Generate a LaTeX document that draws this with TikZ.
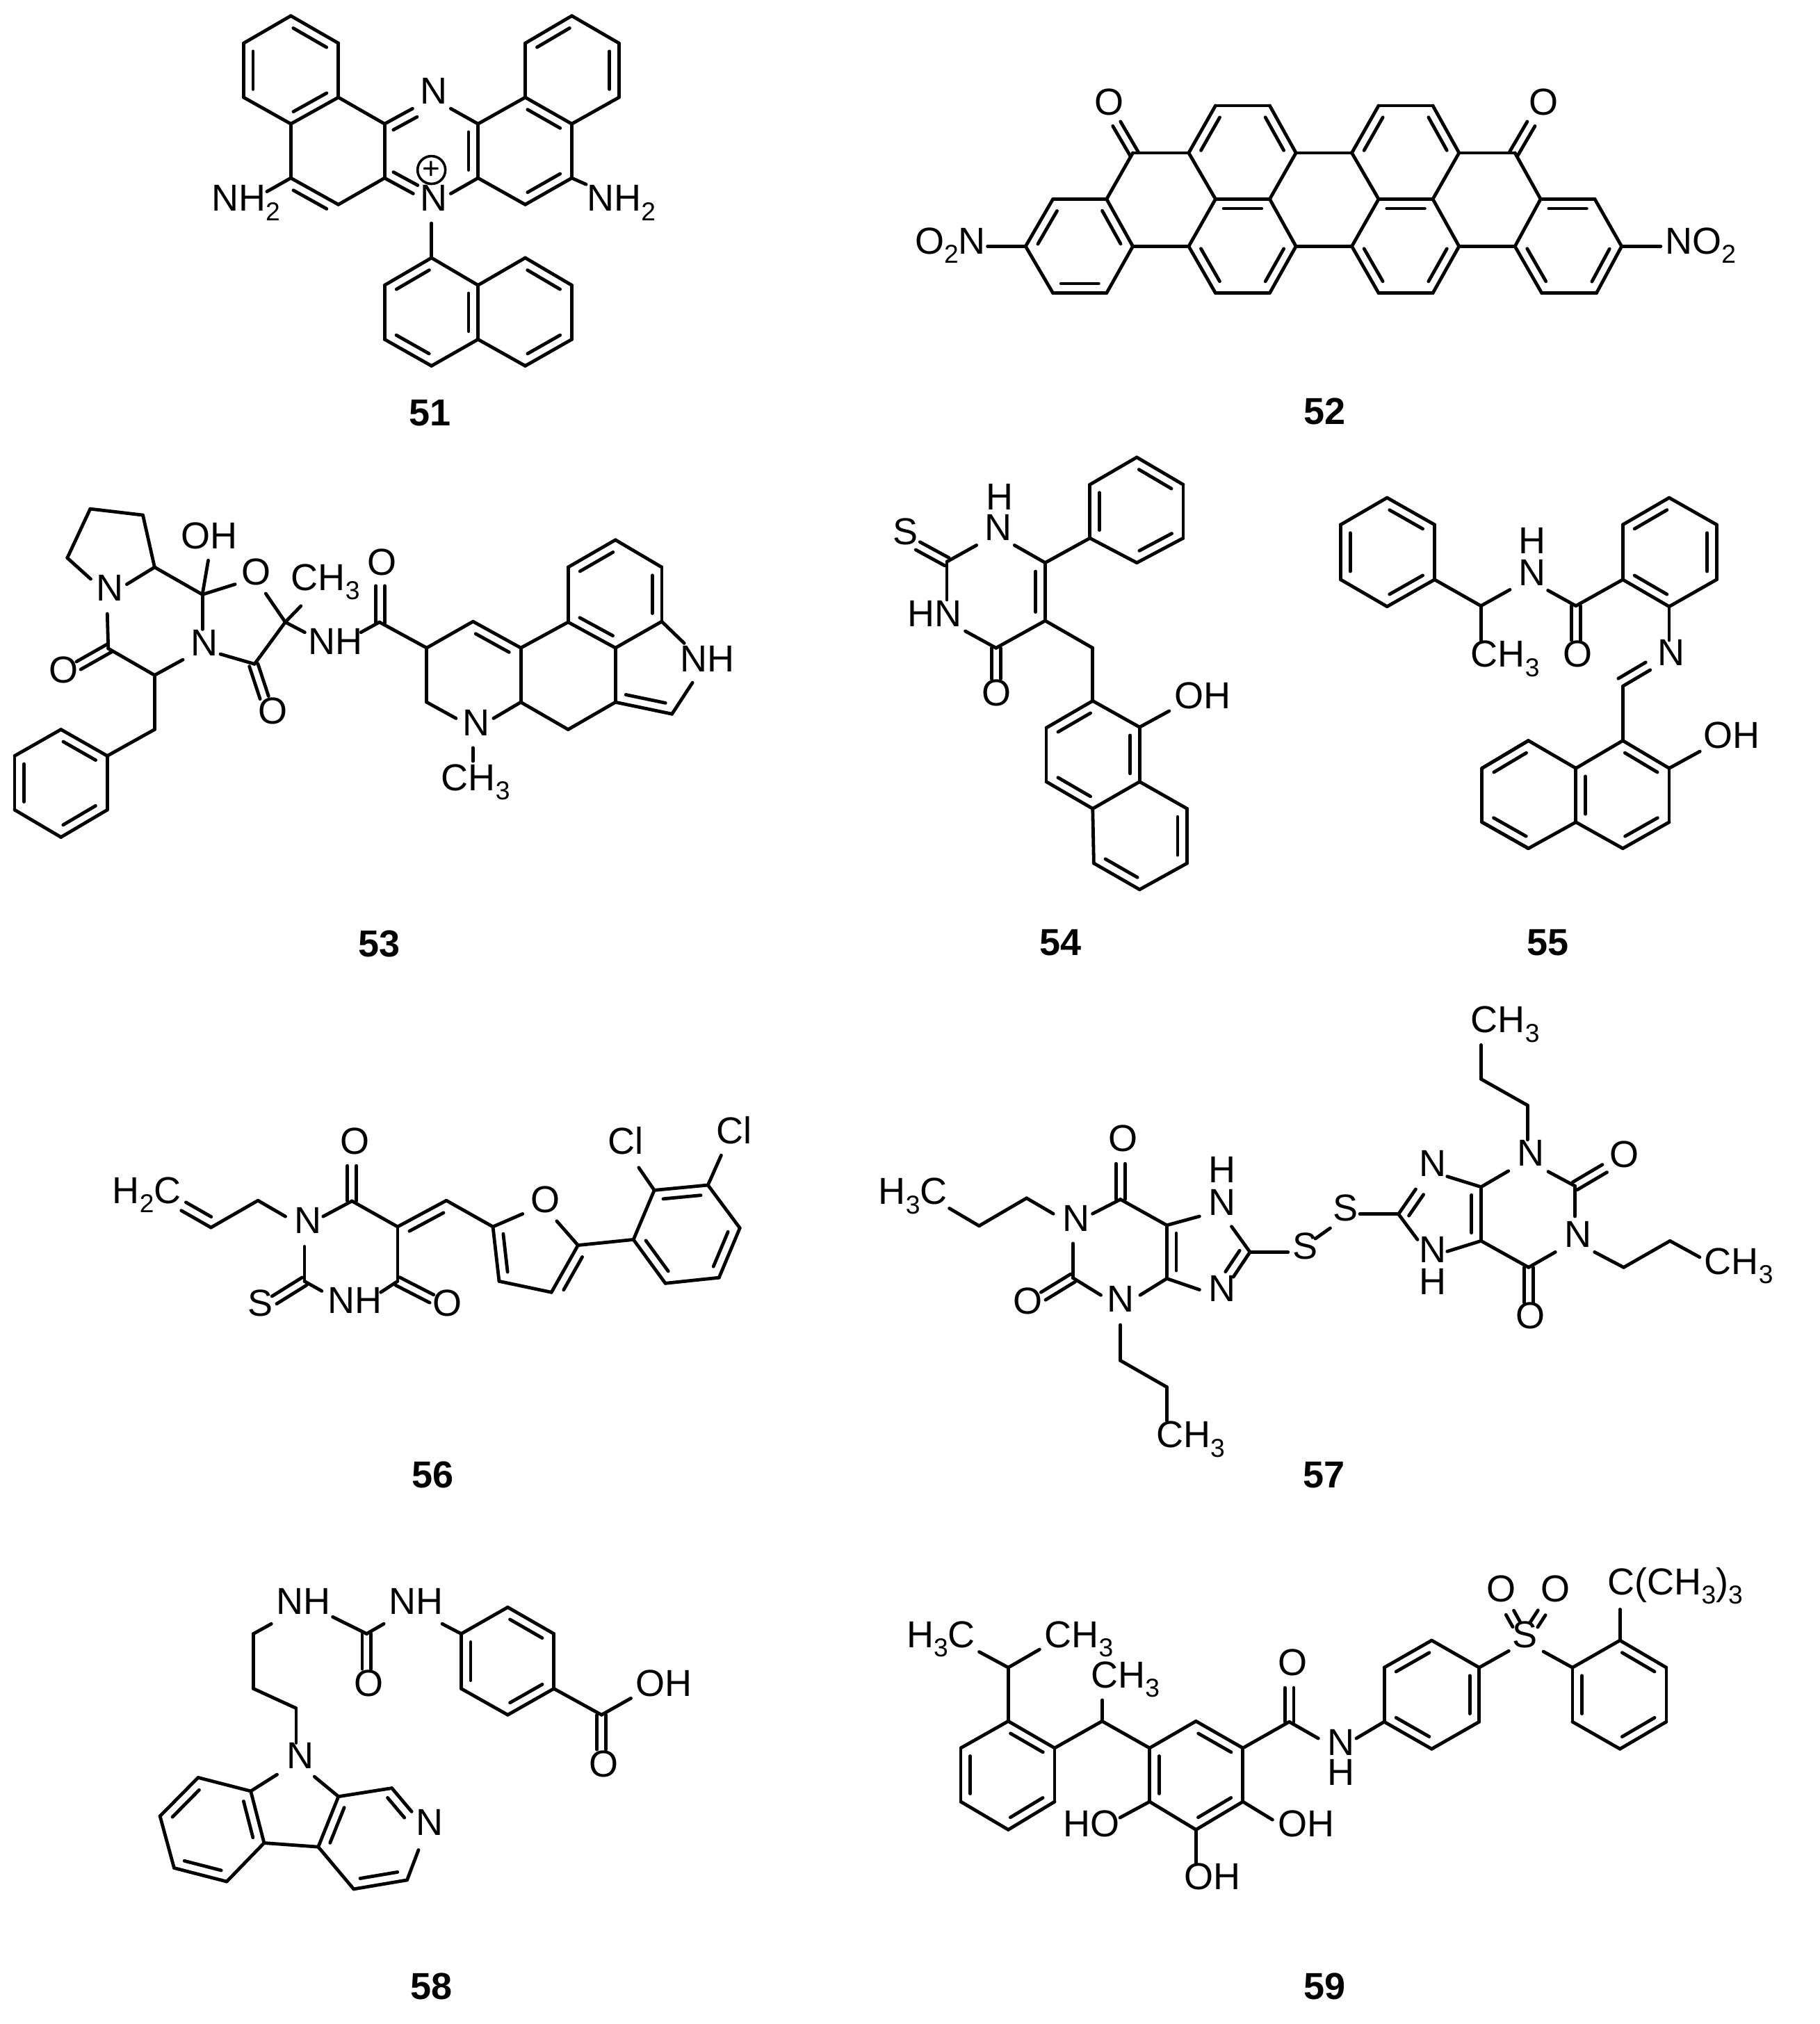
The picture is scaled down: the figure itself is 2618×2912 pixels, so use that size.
\documentclass[tikz,border=0pt]{standalone}
\usepackage{fontspec}
\setmainfont{Liberation Sans}
\usetikzlibrary{calc}
\newcommand\lsub[1]{\raisebox{-3.3pt}{\fontsize{9.3}{11}\selectfont #1}}
\newcommand\pts[1]{\foreach \n/\x/\y in {#1}{\coordinate (\n) at (\x,\y);}}
\newcommand\sbonds[1]{\foreach \a/\b in {#1}{\draw[bond] (\a) -- (\b);}}
\newcommand\arom[1]{\foreach \a/\b in {#1}{\draw[bond] (\a) -- (\b);
  \draw[bond] ($(\a)!.15!(\b)!3.4pt!-90:(\b)$) -- ($(\b)!.15!(\a)!3.4pt!90:(\a)$);}}
\newcommand\heterR[1]{\foreach \a/\b in {#1}{\draw[bond] (\a) -- (\b);
  \draw[bond] ($(\a)!.15!(\b)!3.4pt!-90:(\b)$) -- ($(\b)!3.4pt!90:(\a)$);}}
\newcommand\heterL[1]{\foreach \a/\b in {#1}{\draw[bond] (\a) -- (\b);
  \draw[bond] ($(\a)!.15!(\b)!3.4pt!90:(\b)$) -- ($(\b)!3.4pt!-90:(\a)$);}}
\newcommand\cdb[1]{\foreach \a/\b in {#1}{
  \draw[bond] ($(\a)!1.6pt!90:(\b)$) -- ($(\b)!1.6pt!-90:(\a)$);
  \draw[bond] ($(\a)!1.6pt!-90:(\b)$) -- ($(\b)!1.6pt!90:(\a)$);}}
\newcommand\atm[4]{\node[atom] (#1) at (#2,#3) {#4};}
\newcommand\cmpd[4]{\node[cmpdlabel] (#1) at (#2,#3) {#4};}
\tikzset{
  bond/.style={line width=1.2pt,line cap=round,line join=round,black},
  atom/.style={anchor=base west,inner sep=0pt,outer sep=0pt,font=\fontsize{13.5}{16}\selectfont},
  cmpdlabel/.style={anchor=base,inner sep=0pt,outer sep=0pt,font=\fontsize{13.5}{16}\selectfont\bfseries},
  mol/.style n args={5}{name prefix=#5-,shift={(#1,#2)},x={0.25pt*#3/1568},y={-0.25pt*#4/1568}}
}
\begin{document}
\begin{tikzpicture}[x=0.25pt,y=-0.25pt]
\useasboundingbox[fill=white] (0,0) rectangle (2618,2912);

% ---------- 51
\begin{scope}[mol={250}{0}{750}{650}{m1}]
\pts{a1/352/55,a2/495/150,a3/495/338,a4/352/430,a5/210/338,a6/210/150,b1/634/430,b2/634/618,b3/495/710,b4/352/618,c1/915/430,c2/915/618,c3/1057/338,c4/1197/430,c5/1197/618,c6/1057/710,d1/1057/150,d2/1197/55,d3/1339/150,d4/1339/338,e1/775/895,e2/915/990,e3/915/1178,e4/775/1270,e5/634/1178,e6/634/990,f1/1057/895,f2/1197/990,f3/1197/1178,f4/1057/1270,n1/718/377,n2/833/377,n3/833/672,n4/720/672,n5/775/775,h1/280/665,h2/1240/640}
\sbonds{a2/a3,a4/a5,a6/a1,a3/b1,a4/b4,b3/b2,b1/b2,n2/c1,c2/n3,c1/c3,c4/c5,c6/c2,c3/d1,d2/d3,d4/c4,b4/h1,c5/h2,n5/e1,e1/e2,e3/e4,e5/e6,e2/f1,f2/f3,f4/e3}
\arom{a1/a2,a5/a6,a3/a4,b4/b3,c1/c2,c3/c4,c5/c6,d1/d2,d3/d4,e6/e1,e4/e5,e2/e3,f1/f2,f3/f4}
\heterR{b1/n1}\heterL{b2/n4}
\atm{nh2a}{113}{733}{NH\lsub{2}}
\atm{nh2b}{1243}{733}{NH\lsub{2}}
\atm{nt}{742}{360}{N}
\atm{np}{742}{733}{N}
\node[circle,draw,line width=0.9pt,minimum size=10pt,inner sep=0pt,font=\fontsize{11}{11}\selectfont] (plus) at (775,590) {+};
\cmpd{lab}{770}{1478}{51}
\end{scope}

% ---------- 52
\begin{scope}[mol={1280}{80}{1260}{570}{m2}]
\pts{g1/292/568,g2/388/568,g3/435/755,g4/388/940,g5/292/940,g6/243/755,k1/435/385,h1/535/385,h2/583/198,h3/680/198,h4/727/385,h5/680/568,h6/583/568,i1/727/755,i2/680/940,i3/583/940,i4/535/755,j1/827/385,j2/875/198,j3/972/198,j4/1019/385,j5/972/568,j6/875/568,l1/1019/755,l2/972/940,l3/875/940,l4/827/755,k2/1119/385,m1/1165/568,m2/1262/568,m3/1310/755,m4/1265/940,m5/1167/940,m6/1119/755,o1a/438/391,o1b/406/270,o2a/1116/391,o2b/1148/270,e1/175/755,e2/1380/755}
\sbonds{g1/g2,g3/g4,g5/g6,k1/g2,k1/h1,h2/h3,h4/h5,h1/h6,h5/i1,i2/i3,i4/h6,g3/i4,h4/j1,i1/l4,j2/j3,j4/j5,j1/j6,j5/l1,l2/l3,l4/j6,j4/k2,k2/m1,l1/m6,m2/m3,m4/m5,m6/m1,g6/e1,m3/e2}
\arom{g6/g1,g2/g3,g4/g5,h1/h2,h3/h4,h6/h5,i1/i2,i3/i4,j1/j2,j3/j4,j6/j5,l1/l2,l3/l4,m1/m2,m3/m4,m5/m6}
\cdb{o1a/o1b,o2a/o2b}
\atm{o1}{366}{235}{O}
\atm{o2}{1144}{235}{O}
\atm{no2a}{45}{785}{O\lsub{2}N}
\atm{no2b}{1388}{785}{NO\lsub{2}}
\cmpd{lab}{778}{1460}{52}
\end{scope}

% ---------- 53
\begin{scope}[mol={0}{700}{1100}{700}{m3}]
\pts{p1/138/230,p2/185/72,p3/293/92,p4/317/260,n1/186/298,n2/260/315,q1/415/348,e1/427/238,e2/482/315,e3/415/460,e4/220/410,r1/222/522,ra/225/520,rb/161/577,r2/317/608,e5/375/558,r3/317/783,s1/220/868,s2/125/783,s3/30/868,s4/30/1042,s5/125/1130,s6/220/1042,e6/452/540,t1/522/572,t2/585/437,e7/545/345,e8/617/385,e9/625/470,ta/520/575,tb/542/680,e10/740/470,u1/778/437,ua/780/440,ub/780/320,u2/875/520,u3/970/435,u4/1068/520,u5/875/695,u6/1068/695,e11/935/747,e12/1012/747,e13/970/842,e14/970/885,v1/1165/437,v2/1165/260,v3/1262/172,v4/1357/260,v5/1357/435,v6/1262/520,v7/1262/695,v8/1165/783,v9/1378/733,e15/1420/632,e16/1403/505}
\sbonds{n1/p1,p1/p2,p2/p3,p3/p4,p4/n2,p4/q1,q1/e1,q1/e2,q1/e3,e4/r1,r1/r2,r2/e5,r2/r3,r3/s1,s1/s6,s5/s4,s3/s2,e6/t1,t1/t2,t2/e7,t2/e8,t2/e9,e10/u1,u1/u2,u2/u3,u2/u5,u5/e11,u6/e12,u4/u6,e13/e14,u4/v1,v1/v2,v3/v4,v5/v6,v6/v7,u6/v8,v8/v7,v9/e15,v5/e16}
\arom{s2/s1,s6/s5,s4/s3,u3/u4,v2/v3,v4/v5,v6/v1,v9/v7}
\cdb{ra/rb,ta/tb,ua/ub}
\atm{n3}{198}{368}{N}
\atm{oh}{372}{200}{OH}
\atm{o1}{495}{318}{O}
\atm{n4}{392}{545}{N}
\atm{o2}{100}{633}{O}
\atm{me1}{597}{335}{CH\lsub{3}}
\atm{nh}{632}{542}{NH}
\atm{o3}{530}{765}{O}
\atm{o4}{753}{285}{O}
\atm{n5}{948}{802}{N}
\atm{me2}{905}{980}{CH\lsub{3}}
\atm{nh2}{1395}{598}{NH}
\cmpd{lab}{778}{1515}{53}
\end{scope}

% ---------- 54
\begin{scope}[mol={1260}{640}{1260}{760}{m4}]
\pts{a1/303/350,a3/303/522,b1/383/277,b2/383/118,b3/467/37,b4/550/118,b5/550/277,b6/467/350,e1/248/298,c2/127/347,e2/180/298,s/75/300,e3/127/460,e4/160/553,c3/215/603,o/215/695,d1/388/603,d2/388/760,d3/472/838,d4/472/1000,d5/388/1080,d6/305/1000,d7/305/840,e5/525/790,f1/557/1080,f2/557/1242,f3/472/1320,f4/390/1242}
\sbonds{a1/b1,b2/b3,b4/b5,b6/b1,a1/e1,c2/e2,c2/e3,e4/c3,c3/a3,a3/d1,d1/d2,d2/d3,d4/d5,d6/d7,d3/e5,d4/f1,f2/f3,f4/d5}
\arom{b1/b2,b3/b4,b5/b6,a1/a3,d7/d2,d3/d4,d5/d6,f1/f2,f3/f4}
\cdb{c2/s,c3/o}
\atm{h}{197}{192}{H}
\atm{n}{195}{283}{N}
\atm{st}{30}{297}{S}
\atm{hn}{57}{540}{HN}
\atm{ox}{190}{775}{O}
\atm{oh}{535}{782}{OH}
\cmpd{lab}{330}{1515}{54}
\end{scope}

% ---------- 55
\begin{scope}[mol={1260}{640}{1260}{760}{m5}]
\pts{f1/1000/400,f2/1000/237,f3/915/157,f4/832/237,f5/832/400,f6/915/480,g1/1083/478,e1/1135/430,e2/1083/585,e3/1203/432,g2/1253/478,o/1253/580,h1/1337/400,h2/1337/237,h3/1420/157,h4/1505/237,h5/1505/400,h6/1420/480,e4/1420/580,na/1382/657,nb/1333/705,c/1337/718,i1/1337/878,i2/1420/960,i3/1420/1120,i4/1337/1198,i5/1253/1120,i6/1253/960,e5/1475/910,j1/1168/878,j2/1085/960,j3/1085/1120,j4/1168/1198}
\sbonds{f2/f1,f3/f4,f4/f5,f5/f6,f1/g1,g1/e1,g1/e2,e3/g2,g2/h1,h1/h2,h3/h4,h5/h6,h6/e4,c/i1,i2/i3,i4/i5,i6/i1,i2/e5,i6/j1,j1/j2,j2/j3,j3/j4,j4/i5}
\arom{f3/f2,f1/f6,f5/f4,h2/h3,h4/h5,h6/h1,i1/i2,i3/i4,j2/j1,j4/j3,i5/i6}
\cdb{g2/o,na/nb}
\atm{nh}{1150}{323}{H}
\atm{n1}{1150}{418}{N}
\atm{me}{1065}{660}{CH\lsub{3}}
\atm{ox}{1230}{660}{O}
\atm{n2}{1400}{655}{N}
\atm{oh}{1482}{900}{OH}
\cmpd{lab}{1203}{1515}{55}
\end{scope}

% ---------- 56
\begin{scope}[mol={130}{1580}{1000}{580}{m6}]
\pts{a/205/437,b/272/503,c/378/398,e1/440/460,e2/525/460,d/590/400,o1/590/263,f/693/500,g/803/398,k1/908/500,e3/975/450,k2/922/712,k3/1040/755,k4/1100/572,e4/1052/478,l1/1225/550,l2/1272/358,l3/1393/338,l4/1465/505,l5/1418/698,l6/1297/720,e5/1237/270,e6/1423/222,m/693/712,e7/655/755,o2/770/780,e8/483/577,p/483/712,e9/522/750,s/415/785}
\sbonds{b/c,c/e1,e2/d,d/f,g/k1,k1/e3,k2/k3,k4/e4,k4/l1,l1/l2,l3/l4,l5/l6,l2/e5,l3/e6,f/m,m/e7,e8/p,p/e9}
\heterR{b/a}
\arom{f/g,k2/k1,k3/k4,l2/l3,l4/l5,l6/l1}
\cdb{d/o1,m/o2,p/s}
\atm{h2c}{50}{410}{H\lsub{2}C}
\atm{n}{460}{527}{N}
\atm{o3}{563}{217}{O}
\atm{o4}{993}{445}{O}
\atm{cl1}{1168}{218}{Cl}
\atm{cl2}{1412}{177}{Cl}
\atm{nh}{535}{838}{NH}
\atm{o5}{773}{848}{O}
\atm{sa}{355}{848}{S}
\cmpd{lab}{772}{1515}{56}
\end{scope}

% ---------- 57
\begin{scope}[mol={1240}{1440}{1340}{720}{m7}]
\pts{a1/147/650,a2/197/705,a3/277/618,a4/322/667,a5/388/667,b/435/622,o1/435/510,c/513/703,e1/568/675,d/513/870,e2/468/922,e3/568/905,e4/625/865,f/653/787,e5/622/707,e6/717/787,e7/763/745,e8/788/712,e9/838/668,g/903/668,e10/932/590,e11/935/748,e12/985/785,i/1042/752,e13/985/550,j/1042/583,e14/1088/533,k1/1120/435,k2/1120/327,k3/1042/245,k4/1042/138,e15/1155/535,l/1200/580,o2/1250/525,e16/1200/675,e17/1167/787,m/1122/835,o3/1122/945,q1/1233/787,q2/1282/835,q3/1360/752,q4/1410/803,r0/355/760,r/355/868,o4/305/925,e18/402/922,t1/435/1015,t2/435/1127,t3/513/1210,t4/513/1315}
\sbonds{a1/a2,a2/a3,a3/a4,a5/b,b/c,c/e1,d/e2,d/e3,f/e5,f/e6,e7/e8,e9/g,g/e11,e12/i,e13/j,j/e14,k1/k2,k2/k3,k3/k4,e15/l,l/e16,e17/m,i/m,q1/q2,q2/q3,q3/q4,r0/r,r/e18,t1/t2,t2/t3,t3/t4}
\arom{d/c,j/i}
\heterR{f/e4,g/e10}
\cdb{b/o1,l/o2,m/o3,r/o4}
\atm{h3c}{28}{638}{H\lsub{3}C}
\atm{n1}{338}{722}{N}
\atm{o5}{415}{472}{O}
\atm{h1}{583}{570}{H}
\atm{n2}{583}{672}{N}
\atm{n3}{413}{975}{N}
\atm{n4}{583}{942}{N}
\atm{s1}{725}{808}{S}
\atm{s2}{793}{690}{S}
\atm{n5}{938}{550}{N}
\atm{n6}{938}{820}{N}
\atm{h2}{938}{920}{H}
\atm{n7}{1103}{518}{N}
\atm{me1}{1025}{100}{CH\lsub{3}}
\atm{o6}{1258}{522}{O}
\atm{n8}{1183}{773}{N}
\atm{o7}{1100}{1027}{O}
\atm{me2}{1418}{857}{CH\lsub{3}}
\atm{o8}{255}{980}{O}
\atm{me3}{495}{1400}{CH\lsub{3}}
\cmpd{lab}{778}{1525}{57}
\end{scope}

% ---------- 58
\begin{scope}[mol={200}{2230}{860}{680}{m8}]
\pts{a1/347/245,a2/300/278,a3/300/460,a4/412/525,a5/412/640,b1/508/222,b/597/278,b2/642/245,o1/597/395,b3/795/245,m1/845/278,m2/967/190,m3/1088/278,m4/1088/460,m5/967/547,m6/845/460,c/1213/547,e1/1290/492,o2/1213/662,e2/362/745,p1/293/800,p2/155/755,p3/55/883,p4/92/1055,p5/230/1100,p6/328/972,q1/470/985,q2/523/818,e3/460/752,q3/663/790,e4/715/868,e5/733/995,q4/703/1095,q5/563/1125}
\sbonds{a1/a2,a2/a3,a3/a4,a4/a5,b1/b,b/b2,b3/m1,m1/m2,m3/m4,m5/m6,m4/c,c/e1,e2/p1,p1/p2,p3/p4,p5/p6,p6/q1,q2/e3,q2/q3,e5/q4,q5/q1}
\arom{m2/m3,m4/m5,m6/m1,p1/p6,p3/p2,p5/p4,q1/q2,q4/q5}
\heterR{q3/e4}
\cdb{b/o1,c/o2}
\atm{nh1}{360}{213}{NH}
\atm{nh2}{655}{213}{NH}
\atm{n1}{387}{725}{N}
\atm{o3}{565}{485}{O}
\atm{oh}{1303}{485}{OH}
\atm{o4}{1180}{752}{O}
\atm{n2}{727}{947}{N}
\cmpd{lab}{766}{1490}{58}
\end{scope}

% ---------- 59
\begin{scope}[mol={1280}{2230}{1260}{680}{m9}]
\pts{x1/160/338,x2/212/390,x3/268/330,a1/212/568,a2/295/657,a3/295/835,a4/212/928,a5/127/835,a6/127/657,b1/380/568,b2/380/498,c1/465/657,c2/548/568,c3/632/657,c4/632/835,c5/548/928,c6/465/835,e1/412/888,e2/685/895,e3/548/1040,d/715/570,o1/715/457,e4/767/625,e5/835/625,f1/885/570,f2/885/390,f3/970/300,f4/1055/390,f5/1055/570,f6/970/660,e6/1108/335,e7/1170/337,g1/1222/390,g2/1307/300,g3/1390/390,g4/1390/570,g5/1307/660,g6/1222/570,e8/1307/197,s1/1122/248,s2/1110/208,s3/1153/248,s4/1167/208}
\sbonds{x1/x2,x2/x3,x2/a1,a2/a3,a4/a5,a6/a1,a2/b1,b1/b2,b1/c1,c1/c2,c3/c4,c5/c6,c6/e1,c4/e2,c5/e3,c3/d,d/e4,e5/f1,f1/f2,f3/f4,f5/f6,f4/e6,e7/g1,g1/g2,g3/g4,g5/g6,g2/e8}
\arom{a1/a2,a3/a4,a5/a6,c2/c3,c4/c5,c6/c1,f2/f3,f4/f5,f6/f1,g2/g3,g4/g5,g6/g1}
\cdb{d/o1,s1/s2,s3/s4}
\atm{h3c}{30}{323}{H\lsub{3}C}
\atm{me1}{277}{323}{CH\lsub{3}}
\atm{me2}{360}{458}{CH\lsub{3}}
\atm{ho}{310}{950}{HO}
\atm{oh1}{695}{950}{OH}
\atm{oh2}{527}{1127}{OH}
\atm{o2}{695}{415}{O}
\atm{n}{783}{682}{N}
\atm{h}{783}{780}{H}
\atm{s}{1115}{325}{S}
\atm{tb}{1285}{148}{C(CH\lsub{3})\lsub{3}}
\atm{o3}{1068}{172}{O}
\atm{o4}{1165}{172}{O}
\cmpd{lab}{778}{1490}{59}
\end{scope}
\end{tikzpicture}
\end{document}
